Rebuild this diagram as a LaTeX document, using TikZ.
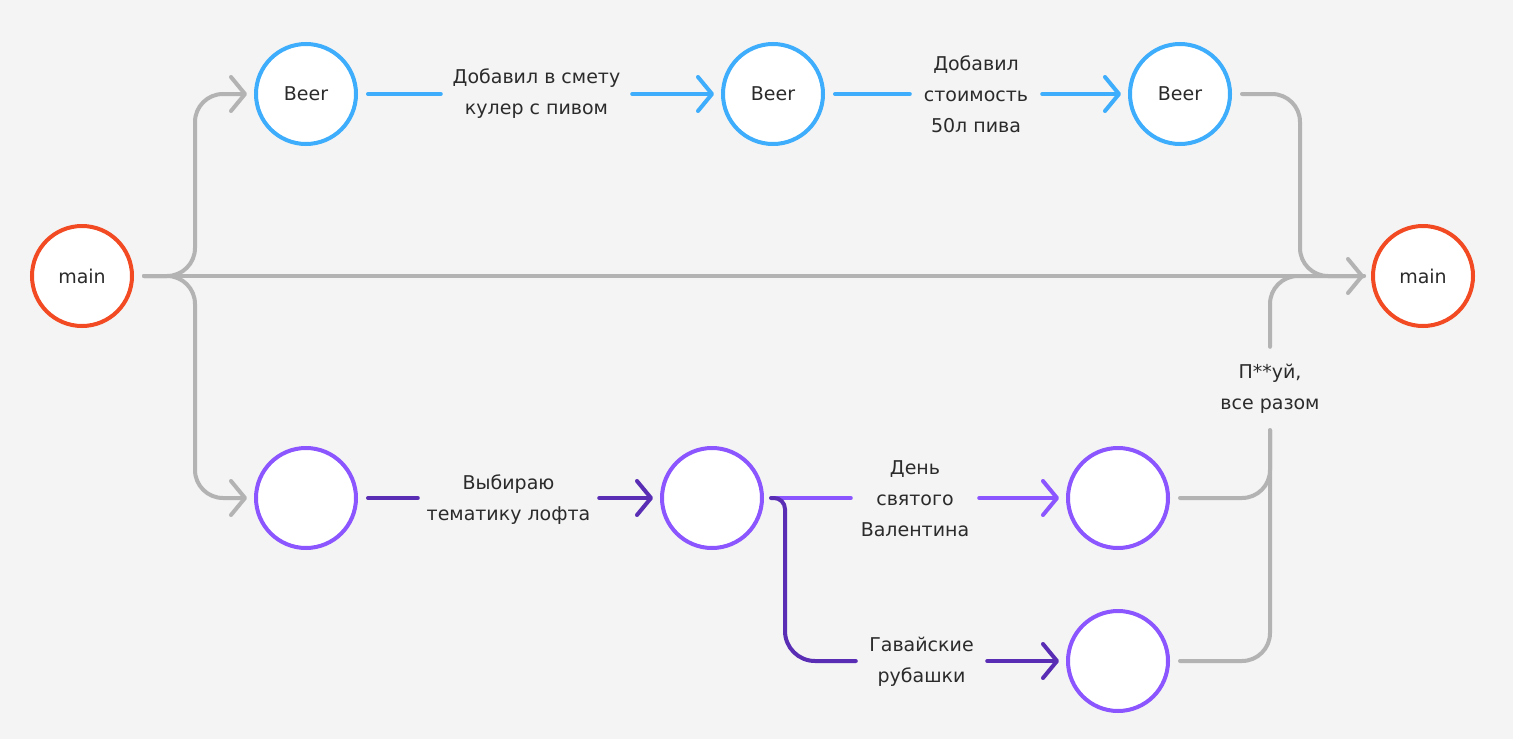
\documentclass[tikz,border=0pt]{standalone}
\usepackage{fontspec}
\setmainfont{DejaVu Sans}
\usetikzlibrary{arrows.meta}
\definecolor{bgc}{HTML}{F4F4F4}
\definecolor{txt}{HTML}{2B2B2B}
\definecolor{redc}{HTML}{F24A23}
\definecolor{bluec}{HTML}{3DADFC}
\definecolor{lpurp}{HTML}{8B55FF}
\definecolor{dpurp}{HTML}{5A2DB5}
\definecolor{grayc}{HTML}{B3B3B3}
\begin{document}
\begin{tikzpicture}[x=1pt,y=-1pt,
  every node/.style={font=\fontsize{19}{31}\selectfont, text=txt},
  commit/.style={circle, draw, fill=white, line width=4pt, minimum size=100pt, inner sep=0pt, outer sep=9pt},
  lbl/.style={align=center, inner sep=0pt, minimum height=20pt},
  conn/.style={line width=4pt, line cap=round, line join=round, rounded corners=28pt},
  fromc/.style={shorten <=3pt},
  tip/.style={-{Straight Barb[length=14pt,width=34pt,round]}},
]
\fill[bgc] (0,0) rectangle (1513,739);

% commits
\node[commit, draw=redc] (m1) at (82,276) {main};
\node[commit, draw=bluec] (b1) at (306,94) {Beer};
\node[commit, draw=bluec] (b2) at (773,94) {Beer};
\node[commit, draw=bluec] (b3) at (1180,94) {Beer};
\node[commit, draw=redc] (m2) at (1423,276) {main};
\node[commit, draw=lpurp] (p1) at (306,498) {};
\node[commit, draw=lpurp] (p2) at (712,498) {};
\node[commit, draw=lpurp] (p3) at (1118,498) {};
\node[commit, draw=lpurp] (p4) at (1118,661) {};

% labels
\node[lbl, minimum width=191pt] (lb1) at (536.5,94) {Добавил в смету\\кулер с пивом};
\node[lbl, minimum width=132pt] (lb2) at (976,94) {Добавил\\стоимость\\50л пива};
\node[lbl, minimum width=181pt] (lp1) at (508.5,500) {Выбираю\\тематику лофта};
\node[lbl, minimum width=128pt] (lv) at (915,499) {День\\святого\\Валентина};
\node[lbl, minimum width=131pt] (lh) at (921.5,662) {Гавайские\\рубашки};
\node[lbl, minimum height=83pt] (pl) at (1270,388.5) {П**уй,\\все разом};

% junctions
\coordinate (jl) at (195,276);
\coordinate (jr) at (1300,276);
\coordinate (jb) at (1270,276);
\coordinate (xv) at (785,498);

% gray main flow
\draw[conn, grayc, fromc, tip] (m1.east) -- (jl) -- (jl |- b1.west) -- (b1.west);
\draw[conn, grayc, fromc, tip] (m1.east) -- (jl) -- (jl |- p1.west) -- (p1.west);
\draw[conn, grayc, fromc, tip] (m1.east) -- (m2.west);
\draw[conn, grayc, fromc] (b3.east) -- (jr |- b3.east) -- (jr) -- (m2.west);
\draw[conn, grayc, fromc] (p3.east) -- (p3.east -| jb) -- (pl.south);
\draw[conn, grayc, fromc] (p4.east) -- (p4.east -| jb) -- (pl.south);
\draw[conn, grayc] (pl.north) -- (jb) -- (m2.west);

% blue branch
\draw[conn, bluec, fromc] (b1.east) -- (b1.east -| lb1.west);
\draw[conn, bluec, tip] (b2.west -| lb1.east) -- (b2.west);
\draw[conn, bluec, fromc] (b2.east) -- (b2.east -| lb2.west);
\draw[conn, bluec, tip] (b3.west -| lb2.east) -- (b3.west);

% purple branch
\draw[conn, dpurp, fromc] (p1.east) -- (p1.east -| lp1.west);
\draw[conn, dpurp, tip] (p2.west -| lp1.east) -- (p2.west);
\draw[conn, lpurp, fromc] (p2.east) -- (p2.east -| lv.west);
\draw[conn, lpurp, tip] (p3.west -| lv.east) -- (p3.west);
\draw[conn, dpurp] (p2.east) [rounded corners=11pt] -- (xv) [rounded corners=30pt] -- (xv |- p4.west) -- (p4.west -| lh.west);
\draw[conn, dpurp, tip] (p4.west -| lh.east) -- (p4.west);
\end{tikzpicture}
\end{document}
